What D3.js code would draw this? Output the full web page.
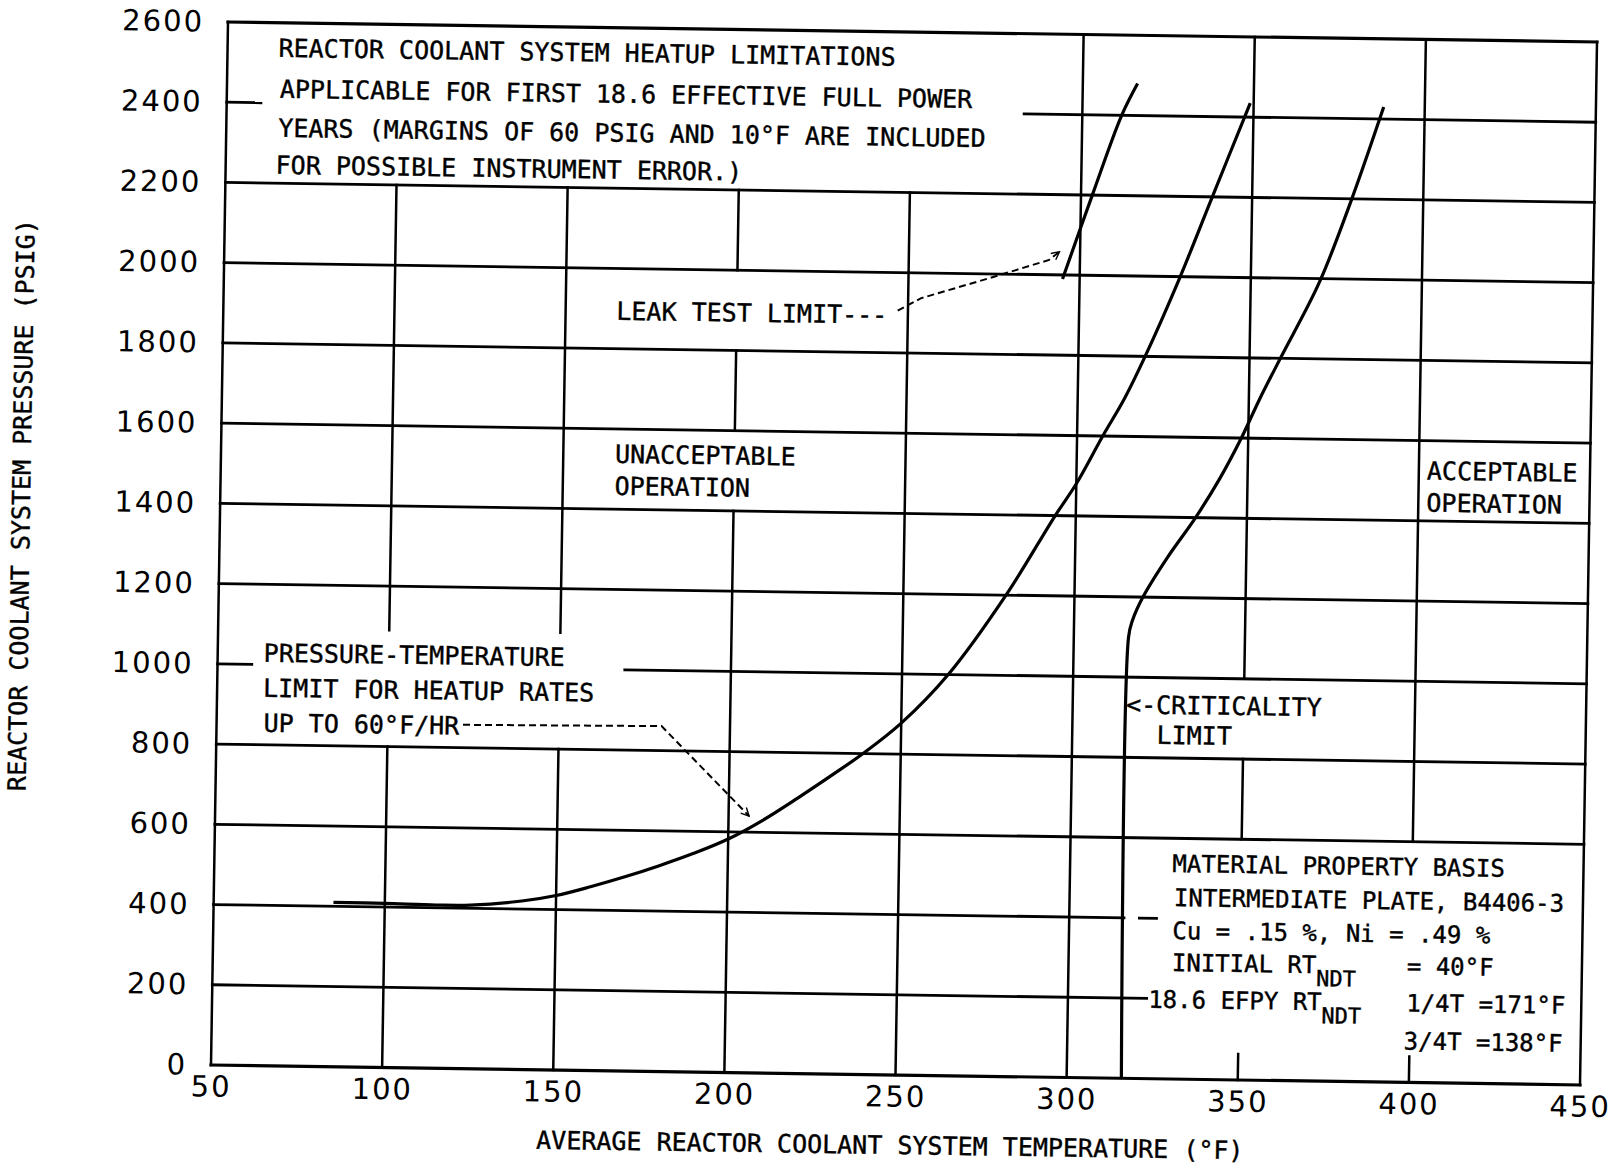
<!DOCTYPE html>
<html>
<head>
<meta charset="utf-8">
<script src="https://cdn.jsdelivr.net/npm/d3@7"></script>
<style>
  body { margin: 0; background: #fff; }
  .lbl { font-family: "DejaVu Sans Mono", monospace; font-size: 25px; fill: #000; stroke: #000; stroke-width: 0.4px; }
  .box { font-size: 24px; }
</style>
</head>
<body>
<div id="chart"></div>
<script>
// tick values
var xTicks = [50, 100, 150, 200, 250, 300, 350, 400, 450];
var yTicks = [0, 200, 400, 600, 800, 1000, 1200, 1400, 1600, 1800, 2000, 2200, 2400, 2600];

// heatup P-T limit (60 F/hr), temperature (F) / pressure (psig)
var heatupTemp = [85, 100, 115, 125, 140, 150, 160, 170, 180, 190, 200, 210, 220, 230, 239, 250, 263.5, 280, 294, 300, 307.5, 313.6, 319.5, 329, 338, 349];
var heatupPsig = [410, 409, 407, 408, 420, 435, 458, 484, 513, 545, 582, 630, 686, 745, 800, 877, 1000, 1200, 1400, 1480, 1600, 1693, 1800, 1992, 2192, 2435];

// leak test limit
var leakTemp = [295, 303.3, 311.5, 316];
var leakPsig = [1990, 2200, 2400, 2480];

// criticality limit
var critTemp = [316, 316, 317, 320, 327, 335, 342, 348, 353, 359, 370, 379, 388];
var critPsig = [0, 1100, 1140, 1200, 1300, 1400, 1500, 1600, 1695, 1800, 1990, 2197, 2430];

// dashed leader arrows
var leakArrowTemp = [247, 253.8, 275, 291, 294];
var leakArrowPsig = [1905, 1937, 1993, 2037, 2058];
var ptArrowTemp = [122, 180, 206];
var ptArrowPsig = [857, 861, 640];

// grid pieces left visible around the text boxes: [psig, fromTemp, toTemp]
var hLines = [
  [2600, 50, 450], [2400, 50, 60], [2400, 283, 450], [2200, 50, 450], [2000, 50, 450],
  [1800, 50, 450], [1600, 50, 450], [1400, 50, 450], [1200, 50, 450],
  [1000, 50, 60], [1000, 169, 450], [800, 50, 450], [600, 50, 450],
  [400, 50, 316], [400, 320.5, 325.5], [200, 50, 323], [0, 50, 450]
];
// [temp, fromPsig, toPsig]
var vLines = [
  [50, 0, 2600], [100, 0, 800], [100, 1090, 2200], [150, 0, 800], [150, 1090, 2200],
  [200, 0, 1400], [200, 1600, 1800], [200, 2000, 2200], [250, 0, 2200], [300, 0, 2600],
  [350, 0, 65], [350, 600, 800], [350, 1000, 2600],
  [400, 0, 65], [400, 600, 2600], [450, 0, 2600]
];

var W = 1369, H = 1043;

var svg = d3.select("#chart").append("svg")
    .attr("width", 1615)
    .attr("height", 1165);

svg.append("rect").attr("width", 1615).attr("height", 1165).attr("fill", "#fff");

svg.append("defs").append("marker")
    .attr("id", "head")
    .attr("viewBox", "0 0 10 10")
    .attr("refX", 9).attr("refY", 5)
    .attr("markerWidth", 5).attr("markerHeight", 5)
    .attr("markerUnits", "strokeWidth")
    .attr("orient", "auto")
  .append("path")
    .attr("d", "M1,1 L9,5 L1,9")
    .attr("fill", "none")
    .attr("stroke", "#000")
    .attr("stroke-width", 1.4);

// the scanned sheet sits a little rotated, so the whole plot is skewed to match
var g = svg.append("g")
    .attr("transform", "matrix(1,0.0146,-0.0163,1,228,22)");

var x = d3.scaleLinear().domain([50, 450]).range([0, W]);
var y = d3.scaleLinear().domain([0, 2600]).range([H, 0]);

// grid
g.selectAll(".hl").data(hLines).enter().append("line")
    .attr("x1", function(d) { return x(d[1]); })
    .attr("x2", function(d) { return x(d[2]); })
    .attr("y1", function(d) { return y(d[0]); })
    .attr("y2", function(d) { return y(d[0]); })
    .attr("stroke", "#000")
    .attr("stroke-width", function(d) { return (d[0] == 0 || d[0] == 2600) ? 3.2 : 2.8; })
    .attr("stroke-linecap", "square");

g.selectAll(".vl").data(vLines).enter().append("line")
    .attr("x1", function(d) { return x(d[0]); })
    .attr("x2", function(d) { return x(d[0]); })
    .attr("y1", function(d) { return y(d[1]); })
    .attr("y2", function(d) { return y(d[2]); })
    .attr("stroke", "#000")
    .attr("stroke-width", 2.5)
    .attr("stroke-linecap", "square");

// axes (labels only, the grid draws the frame)
var xAxis = g.append("g")
    .attr("transform", "translate(0," + H + ")")
    .call(d3.axisBottom(x).tickValues(xTicks).tickFormat(d3.format("d")).tickSize(0).tickPadding(11));
var yAxis = g.append("g")
    .call(d3.axisLeft(y).tickValues(yTicks).tickFormat(d3.format("d")).tickSize(0).tickPadding(24));

[xAxis, yAxis].forEach(function(a) {
  a.select(".domain").remove();
  a.selectAll("text")
    .attr("font-family", "'DejaVu Sans', sans-serif")
    .attr("font-size", 29)
    .attr("letter-spacing", 2)
    .attr("fill", "#000");
});

// curves
var curve = d3.line()
    .x(function(d) { return x(d[0]); })
    .y(function(d) { return y(d[1]); })
    .curve(d3.curveCatmullRom.alpha(0.5));

[[heatupTemp, heatupPsig], [leakTemp, leakPsig], [critTemp, critPsig]].forEach(function(s) {
  g.append("path")
    .datum(d3.zip(s[0], s[1]))
    .attr("d", curve)
    .attr("fill", "none")
    .attr("stroke", "#000")
    .attr("stroke-width", 3.2);
});

[[leakArrowTemp, leakArrowPsig], [ptArrowTemp, ptArrowPsig]].forEach(function(s) {
  g.append("path")
    .datum(d3.zip(s[0], s[1]))
    .attr("d", curve.curve(d3.curveLinear))
    .attr("fill", "none")
    .attr("stroke", "#000")
    .attr("stroke-width", 2)
    .attr("stroke-dasharray", "7,4")
    .attr("marker-end", "url(#head)");
});

// text blocks
function label(tx, ty, str) {
  return g.append("text").attr("class", "lbl").attr("x", tx).attr("y", ty).text(str);
}

// a line with an "RT" subscript "NDT" and a value at a fixed column
function rtLine(tx, ty, head, tail) {
  var t = g.append("text").attr("class", "lbl box").attr("x", tx).attr("y", ty);
  t.append("tspan").text(head);
  t.append("tspan").attr("dy", 13).attr("font-size", 22).text("NDT");
  t.append("tspan").attr("x", 1194).attr("dy", -13).text(tail);
  return t;
}

label(51, 34, "REACTOR COOLANT SYSTEM HEATUP LIMITATIONS");
label(53, 75, "APPLICABLE FOR FIRST 18.6 EFFECTIVE FULL POWER");
label(52, 114, "YEARS (MARGINS OF 60 PSIG AND 10°F ARE INCLUDED");
label(50, 151, "FOR POSSIBLE INSTRUMENT ERROR.)");

label(393, 292, "LEAK TEST LIMIT---");
label(394, 435, "UNACCEPTABLE");
label(394, 467, "OPERATION");
label(1206, 440, "ACCEPTABLE");
label(1206, 472, "OPERATION");

label(46, 639, "PRESSURE-TEMPERATURE");
label(46, 674, "LIMIT FOR HEATUP RATES");
label(47, 709, "UP TO 60°F/HR");

label(909, 678, "<-CRITICALITY");
label(940, 708, "LIMIT");

label(958, 836, "MATERIAL PROPERTY BASIS").classed("box", true);
label(960, 870, "INTERMEDIATE PLATE, B4406-3").classed("box", true);
label(959, 903, "Cu = .15 %, Ni = .49 %").classed("box", true);
rtLine(959, 935, "INITIAL RT", "= 40°F");
rtLine(936, 972, "18.6 EFPY RT", "1/4T =171°F");
label(1192, 1010, "3/4T =138°F").classed("box", true);

// axis titles
label(0, 0, "AVERAGE REACTOR COOLANT SYSTEM TEMPERATURE (°F)")
    .attr("text-anchor", "middle")
    .attr("transform", "translate(680,1122)");
label(0, 9, "REACTOR COOLANT SYSTEM PRESSURE (PSIG)")
    .attr("text-anchor", "middle")
    .attr("transform", "translate(-199,486) rotate(-90)");
</script>
</body>
</html>
